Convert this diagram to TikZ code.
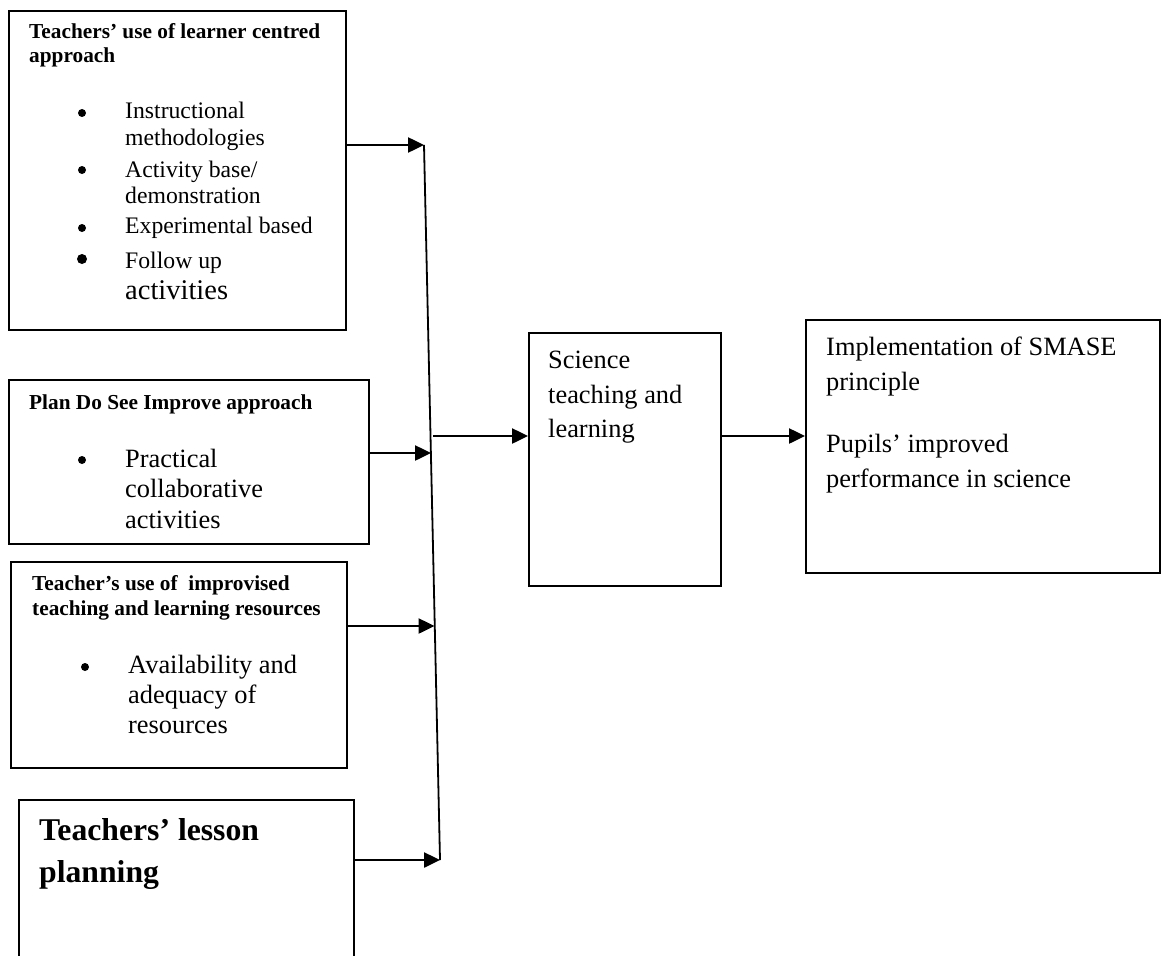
\documentclass[tikz,border=0pt]{standalone}
\usepackage{fontspec}
\setmainfont{Liberation Serif}
\usetikzlibrary{arrows.meta,calc}
\begin{document}
\begin{tikzpicture}[x=1pt,y=-1pt,
  box/.style={draw,line width=2pt,inner sep=0pt,anchor=north west},
  txt/.style={anchor=base west,inner sep=0pt},
  ttl/.style={txt,font=\fontsize{21.3}{24}\selectfont\bfseries},
  itA/.style={txt,font=\fontsize{23.7}{27}\selectfont},
  itB/.style={txt,font=\fontsize{26.4}{30}\selectfont},
  big/.style={txt,font=\fontsize{31.7}{36}\selectfont\bfseries},
  dot/.style={circle,fill,inner sep=0pt,minimum size=8pt},
  arr/.style={line width=2.5pt,-{Triangle[length=16pt,width=15pt]}},
  coll/.style={line width=1.8pt}]
\clip (0,0) rectangle (1166,955);
\fill[white] (0,0) rectangle (1166,955);
% boxes
\node[box,minimum width=337pt,minimum height=319pt] (b1) at (8,10) {};
\node[box,minimum width=360pt,minimum height=164pt] (b2) at (8,379) {};
\node[box,minimum width=336pt,minimum height=206pt] (b3) at (10,561) {};
\node[box,minimum width=335pt,minimum height=175pt] (b4) at (18,799) {};
\node[box,minimum width=192pt,minimum height=253pt] (sci) at (528,332) {};
\node[box,minimum width=354pt,minimum height=253pt] (res) at (805,319) {};
% box 1 text
\node[ttl] (t1a) at (29,39) {Teachers’ use of learner centred};
\node[ttl] (t1b) at (29,63) {approach};
\node[dot] (d1) at (82,113) {};
\node[itA] (i1a) at (125,119) {Instructional};
\node[itA] (i1b) at (125,146) {methodologies};
\node[dot] (d2) at (82,170) {};
\node[itA] (i2a) at (125,177) {Activity base/};
\node[itA] (i2b) at (125,203) {demonstration};
\node[dot] (d3) at (82,228) {};
\node[itA] (i3a) at (125,233) {Experimental based};
\node[dot,minimum size=10pt] (d4) at (82,259) {};
\node[itA] (i4a) at (125,268) {Follow up};
\node[txt,font=\fontsize{28.5}{32}\selectfont] (i4b) at (125,299) {activities};
% box 2 text
\node[ttl] (t2a) at (29,409) {Plan Do See Improve approach};
\node[dot] (d5) at (82,460) {};
\node[itB] (i5a) at (125,467) {Practical};
\node[itB] (i5b) at (125,497) {collaborative};
\node[itB] (i5c) at (125,528) {activities};
% box 3 text
\node[ttl] (t3a) at (32,590) {Teacher’s use of\ \ improvised};
\node[ttl] (t3b) at (32,615) {teaching and learning resources};
\node[dot] (d6) at (85,667) {};
\node[itB] (i6a) at (128,673) {Availability and};
\node[itB] (i6b) at (128,703) {adequacy of};
\node[itB] (i6c) at (128,733) {resources};
% box 4 text
\node[big] (t4a) at (39,840) {Teachers’ lesson};
\node[big] (t4b) at (39,882) {planning};
% science box
\node[itB] (s1) at (548,368) {Science};
\node[itB] (s2) at (548,403) {teaching and};
\node[itB] (s3) at (548,437) {learning};
% result box
\node[itB] (r1) at (826,355) {Implementation of SMASE};
\node[itB] (r2) at (826,390) {principle};
\node[itB] (r3) at (826,452) {Pupils’ improved};
\node[itB] (r4) at (826,487) {performance in science};
% collecting line and connectors
\coordinate (jt) at (424,145);
\coordinate (jb) at (440,860);
\coordinate (j2) at (431,453);
\coordinate (j3) at (434.5,626);
\coordinate (jo) at (433,436);
\draw[coll] (jt) -- (jb);
\draw[arr] (b1.east |- jt) -- (jt);
\draw[arr] (b2.east |- j2) -- (j2);
\draw[arr] (b3.east |- j3) -- (j3);
\draw[arr] (b4.east |- jb) -- (jb);
\draw[arr] (jo) -- (sci.west |- jo);
\draw[arr] (sci.east |- jo) -- (res.west |- jo);
\end{tikzpicture}
\end{document}
